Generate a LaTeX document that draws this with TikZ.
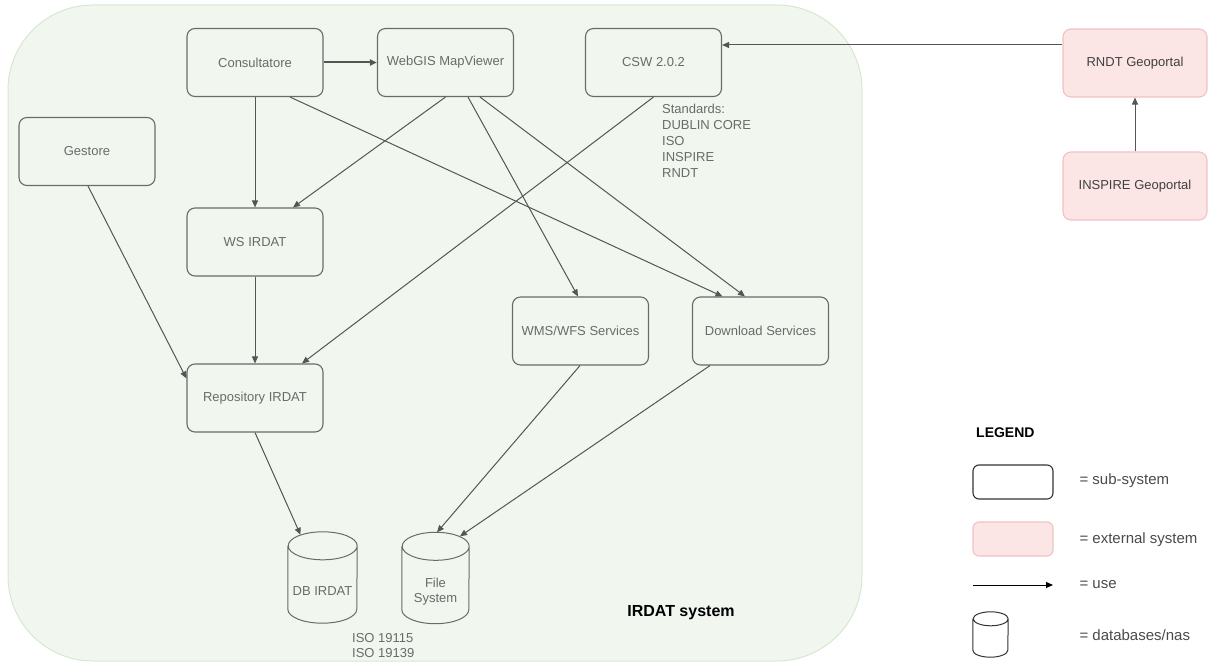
\documentclass[tikz,border=0pt]{standalone}
\usepackage{fontspec}
\setmainfont{Liberation Sans}
\usetikzlibrary{arrows.meta}

\definecolor{sysfill}{HTML}{F1F7EF}
\definecolor{sysline}{HTML}{D6E8D0}
\definecolor{boxline}{HTML}{6A6A6A}
\definecolor{boxtext}{HTML}{6A6A6A}
\definecolor{edgeline}{HTML}{555555}
\definecolor{extfill}{HTML}{FCE5E5}
\definecolor{extline}{HTML}{F0C2C2}
\definecolor{legtext}{HTML}{4A4A4A}

\begin{document}
\begin{tikzpicture}
[x=1pt,y=-1pt,
  boxdecorate/.style={shape=rectangle,rounded corners=8pt,draw=boxline,line width=1.1pt,
    minimum width=136pt,minimum height=68pt,inner sep=0pt,text=boxtext,
    font=\fontsize{13}{15}\selectfont},%
  extdecorate/.style={boxdecorate,draw=extline,fill=extfill,minimum width=144pt,text=black!75},%
  dbdecorate/.style={shape=rectangle,minimum width=69pt,minimum height=63pt,inner sep=1pt,
    text=boxtext,align=center,font=\fontsize{13}{15}\selectfont},%
  cyldecorate/.style={draw=boxline,line width=1pt},%
  linedecorate/.style={-{Triangle[length=7pt,width=6pt]},draw=edgeline,line width=1pt},%
  legdecorate/.style={anchor=west,text=legtext,font=\fontsize{15}{17}\selectfont}]
\useasboundingbox (0,0) rectangle (1208,663);
%% IRDAT system container
\draw[draw=sysline,fill=sysfill,rounded corners=85pt,line width=1pt] (8,5) rectangle (862,661);
\node[font=\bfseries\fontsize{16}{18}\selectfont] (syslabel) at (681,613) {IRDAT system};
%% sub-systems
\foreach \nodename/\x/\y/\txt in {cons/255/62.5/Consultatore, webgis/445.5/62.5/WebGIS MapViewer,
  csw/653.5/62.5/CSW 2.0.2, gest/87/151.5/Gestore, ws/255/242/WS IRDAT,
  repo/255/398/Repository IRDAT, wms/580.5/331/{WMS/WFS Services}, down/760.5/331/Download Services}
{
  \node (\nodename) at (\x,\y) [boxdecorate] {\txt};
}
%% external systems
\node (rndt) at (1135,63) [extdecorate] {RNDT Geoportal};
\node (inspire) at (1135,186) [extdecorate] {INSPIRE Geoportal};
%% databases (node = body under the top cap)
\node (db) at (322.5,591.5) [dbdecorate] {DB IRDAT};
\node (fs) at (435.5,592) [dbdecorate,minimum width=67pt] {File\\System};
\node (legdb) at (990.5,641.5) [dbdecorate,minimum width=35pt,minimum height=31pt] {};
\foreach \cyl/\rx/\ry/\col in {db/34.5/14/boxline, fs/33.5/14/boxline, legdb/17.5/7/black!80}
{
  \draw[cyldecorate,draw=\col] ([yshift=\ry pt]\cyl.north west) -- ([yshift=\ry pt]\cyl.south west)
    arc[start angle=180,end angle=360,x radius=\rx pt,y radius=\ry pt]
    -- ([yshift=\ry pt]\cyl.north east)
    arc[start angle=0,end angle=180,x radius=\rx pt,y radius=\ry pt]
    arc[start angle=180,end angle=360,x radius=\rx pt,y radius=\ry pt];
}
%% notes
\node (standards) at (662,104) [anchor=north west,inner sep=0pt,align=left,text=boxtext,
  font=\fontsize{13}{16}\selectfont] {Standards:\\DUBLIN CORE\\ISO\\INSPIRE\\RNDT};
\node (isonote) at (352,633.5) [anchor=north west,inner sep=0pt,align=left,text=boxtext,
  font=\fontsize{13}{15}\selectfont] {ISO 19115\\ISO 19139};
%% connectors
\path
\foreach \startnode/\endnode in {cons/ws, ws/repo, inspire/rndt}
{
  (\startnode) edge[linedecorate] (\endnode)
};
\draw[linedecorate,line width=2pt] (cons) -- (webgis);
\draw[linedecorate] ([xshift=35pt]cons.south) -- ([xshift=-38pt]down.north);
\draw[linedecorate] (webgis.south) -- ([xshift=38pt]ws.north);
\draw[linedecorate] ([xshift=22.5pt]webgis.south) -- ([xshift=-2.5pt]wms.north);
\draw[linedecorate] ([xshift=34.5pt]webgis.south) -- ([xshift=-15.5pt]down.north);
\draw[linedecorate] (csw.south) -- ([xshift=47pt]repo.north);
\draw[linedecorate] ([xshift=1pt]gest.south) -- ([yshift=-15pt]repo.north west);
\draw[linedecorate] (repo.south) -- ([xshift=-22pt,yshift=25pt]db.north);
\draw[linedecorate] ([xshift=-0.5pt]wms.south) -- ([xshift=1.5pt,yshift=28pt]fs.north);
\draw[linedecorate] ([xshift=-50.5pt]down.south) -- ([xshift=24.5pt,yshift=24pt]fs.north);
\draw[linedecorate] ([yshift=18pt]rndt.west) -- ([yshift=17.5pt]csw.east);
%% legend
\node (legend) at (976,433) [anchor=west,inner sep=0pt,font=\bfseries\fontsize{14}{16}\selectfont] {LEGEND};
\node (legsub) at (1013,482) [boxdecorate,draw=black!80,fill=white,minimum width=80pt,
  minimum height=34pt,rounded corners=6pt] {};
\node (legext) at (1013,539) [boxdecorate,draw=extline,fill=extfill,minimum width=80pt,
  minimum height=34pt,rounded corners=6pt] {};
\coordinate (usestart) at (973,585);
\coordinate (useend) at (1053,585);
\draw[linedecorate,draw=black] (usestart) -- (useend);
\node (subtext) at (1076,481) [legdecorate] {= sub-system};
\node (exttext) at (1076,540) [legdecorate] {= external system};
\node (usetext) at (1076,585) [legdecorate] {= use};
\node (dbtext) at (1076,635) [legdecorate] {= databases/nas};
\end{tikzpicture}
\end{document}
